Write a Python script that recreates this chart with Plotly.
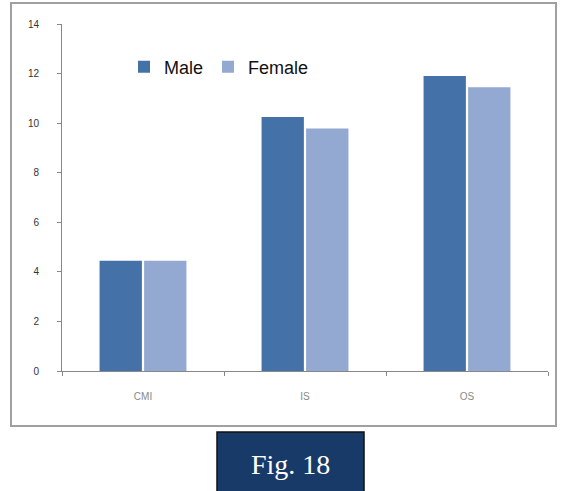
import plotly.graph_objects as go

categories = ["CMI", "IS", "OS"]
male = [4.45, 10.25, 11.9]
female = [4.45, 9.78, 11.45]
yticks = [0, 2, 4, 6, 8, 10, 12, 14]

W, H = 561, 491
L, R, T, B = 62, 13, 24, 120
pw, ph = W - L - R, H - T - B

def px(x):
    return (x - L) / pw

def py(y):
    return (H - B - y) / ph

fig = go.Figure()
fig.add_trace(go.Bar(x=categories, y=male, name="Male", marker=dict(color="#4472A8", line=dict(width=0))))
fig.add_trace(go.Bar(x=categories, y=female, name="Female", marker=dict(color="#93A9D1", line=dict(width=0))))

fig.update_layout(
    width=W, height=H,
    margin=dict(l=L, r=R, t=T, b=B, pad=0),
    paper_bgcolor="white", plot_bgcolor="white",
    barmode="group", bargap=0.45, bargroupgap=0.05,
    font=dict(family="Liberation Sans, Arial", color="#333"),
    showlegend=True,
    legend=dict(orientation="h", x=px(124), y=py(67), xanchor="left", yanchor="middle",
                font=dict(size=18, color="#111"), bgcolor="rgba(0,0,0,0)",
                itemwidth=30, traceorder="normal"),
    xaxis=dict(showline=True, linecolor="#888", linewidth=1, ticks="outside", tickson="boundaries",
               ticklen=4, tickcolor="#888", tickfont=dict(size=10, color="#888"), showgrid=False,
               ticklabelstandoff=16),
    yaxis=dict(range=[0, 14], tickvals=yticks, showline=True, linecolor="#888", linewidth=1,
               ticks="outside", ticklen=4, tickcolor="#888", tickfont=dict(size=10, color="#333"),
               showgrid=False, zeroline=False, ticklabelstandoff=16),
    shapes=[
        dict(type="rect", xref="paper", yref="paper", x0=px(11), x1=px(556), y0=py(426), y1=py(3),
             line=dict(color="#a0a0a0", width=2), fillcolor="rgba(0,0,0,0)", layer="below"),
        dict(type="rect", xref="paper", yref="paper", x0=px(217), x1=px(364), y0=py(495), y1=py(432),
             line=dict(color="#111", width=1.5), fillcolor="#183A68"),
    ],
    annotations=[
        dict(text="Fig. 18", xref="paper", yref="paper", x=px(290), y=py(465), showarrow=False,
             font=dict(family="Liberation Serif, DejaVu Serif, serif", size=28, color="white"),
             xanchor="center", yanchor="middle"),
    ],
)

fig.write_html("out.html")
